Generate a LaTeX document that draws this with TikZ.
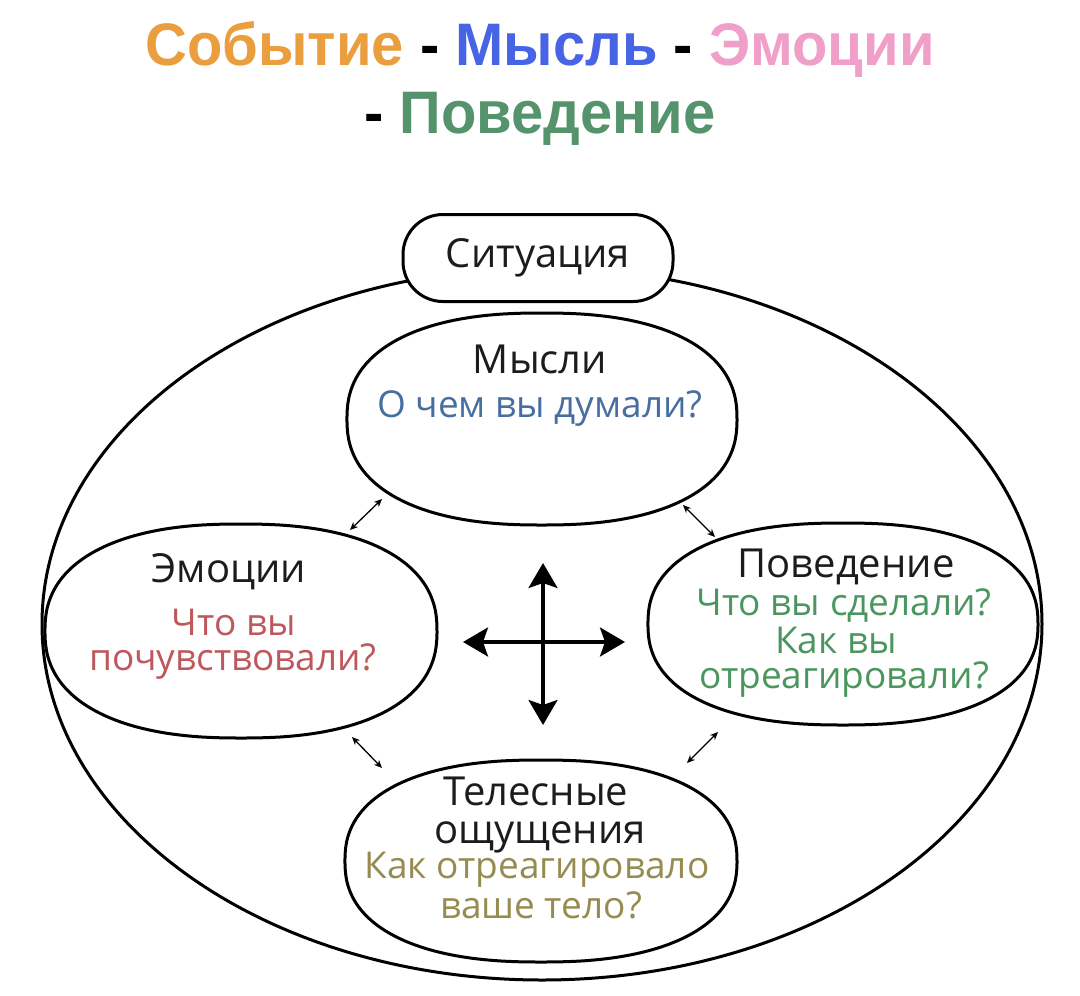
\documentclass[tikz,border=0pt]{standalone}
\usepackage{fontspec}
\setmainfont{Open Sans}
\newfontfamily\titlefont[FakeStretch=0.965]{Liberation Sans}
\usetikzlibrary{arrows.meta,shapes.geometric}
\definecolor{tOrange}{RGB}{235,158,62}
\definecolor{tBlue}{RGB}{70,100,228}
\definecolor{tPink}{RGB}{240,160,200}
\definecolor{tGreen}{RGB}{85,147,109}
\definecolor{qBlue}{RGB}{70,110,160}
\definecolor{qRed}{RGB}{190,88,92}
\definecolor{qGreen}{RGB}{75,150,95}
\definecolor{qOlive}{RGB}{150,140,82}
\definecolor{ink}{RGB}{28,28,28}
\newcommand\sellipse[3]{%
  \draw[shapeline, shift={#1}] plot[domain=0.5:359.5, samples=240, variable=\t]
   ({#2*(cos(\t)<0 ? -1 : 1)*exp(0.85*ln(abs(cos(\t))))},
    {#3*(sin(\t)<0 ? -1 : 1)*exp(0.85*ln(abs(sin(\t))))}) -- cycle;}
\begin{document}
\begin{tikzpicture}[x=1pt,y=-1pt,
  shapeline/.style={draw=black, line width=3pt},
  titletext/.style={anchor=base, inner sep=0pt, font=\titlefont\bfseries\fontsize{60}{60}\selectfont},
  headtext/.style={anchor=base, inner sep=0pt, text=ink, font=\fontsize{40}{40}\selectfont},
  qtext/.style={anchor=base, inner sep=0pt, font=\fontsize{37}{37}\selectfont},
  sitbox/.style={draw=black, line width=3pt, fill=white, rounded corners=40pt,
     minimum width=270pt, minimum height=87pt, inner sep=0pt, text=ink,
     font=\fontsize{40}{40}\selectfont},
  bigarrow/.style={line width=3.3pt, {Stealth[length=25pt,width=29pt,inset=5pt]}-{Stealth[length=25pt,width=29pt,inset=5pt]}},
  smallarrow/.style={line width=1.3pt, {Stealth[length=8pt,width=7pt]}-{Stealth[length=8pt,width=7pt]}}
]
\useasboundingbox (0,0) rectangle (1080,996);
\fill[white] (0,0) rectangle (1080,996);

% title
\node[titletext] (title1) at (540,65) {\textcolor{tOrange}{Событие} - \textcolor{tBlue}{Мысль} - \textcolor{tPink}{Эмоции}};
\node[titletext] (title2) at (540,133) {- \textcolor{tGreen}{Поведение}};

% outer ellipse
\node[draw=black, line width=3pt, ellipse, minimum width=1000pt, minimum height=712pt, inner sep=0pt] (outer) at (542,624) {};

% situation
\node[sitbox] (sit) at (538,258) {Ситуация};

% centres of inner shapes
\coordinate (mysli) at (542,419);
\coordinate (emo) at (241,631);
\coordinate (pov) at (843,624);
\coordinate (tel) at (541,861);
\sellipse{(mysli)}{195}{106}
\sellipse{(emo)}{196}{107}
\sellipse{(pov)}{195}{101}
\sellipse{(tel)}{196}{101}

% texts
\node[headtext] (m1) at (540,373) {Мысли};
\node[qtext, text=qBlue] (m2) at (540,417) {О чем вы думали?};

\node[headtext] (e1) at (229,582) {Эмоции};
\node[qtext, text=qRed] (e2) at (234,635) {Что вы};
\node[qtext, text=qRed] (e3) at (233,670) {почувствовали?};

\node[headtext] (p1) at (846,577) {Поведение};
\node[qtext, text=qGreen] (p2) at (844,615) {Что вы сделали?};
\node[qtext, text=qGreen] (p3) at (836,653) {Как вы};
\node[qtext, text=qGreen] (p4) at (844,688) {отреагировали?};

\node[headtext] (t1) at (536,805) {Телесные};
\node[headtext] (t2) at (540,843) {ощущения};
\node[qtext, text=qOlive] (t3) at (537,878) {Как отреагировало};
\node[qtext, text=qOlive] (t4) at (541,918) {ваше тело?};

% central cross
\coordinate (cl) at (463,642);
\coordinate (cr) at (625,642);
\coordinate (ct) at (543,563);
\coordinate (cb) at (543,725);
\draw[bigarrow] (cl) -- (cr);
\draw[bigarrow] (ct) -- (cb);

% small double arrows
\coordinate (ula) at (350,530); \coordinate (ulb) at (382,499);
\coordinate (ura) at (683,505); \coordinate (urb) at (715,537);
\coordinate (lla) at (352,737); \coordinate (llb) at (382,768);
\coordinate (lra) at (718,732); \coordinate (lrb) at (687,763);
\draw[smallarrow] (ula) -- (ulb);
\draw[smallarrow] (ura) -- (urb);
\draw[smallarrow] (lla) -- (llb);
\draw[smallarrow] (lra) -- (lrb);
\end{tikzpicture}
\end{document}
